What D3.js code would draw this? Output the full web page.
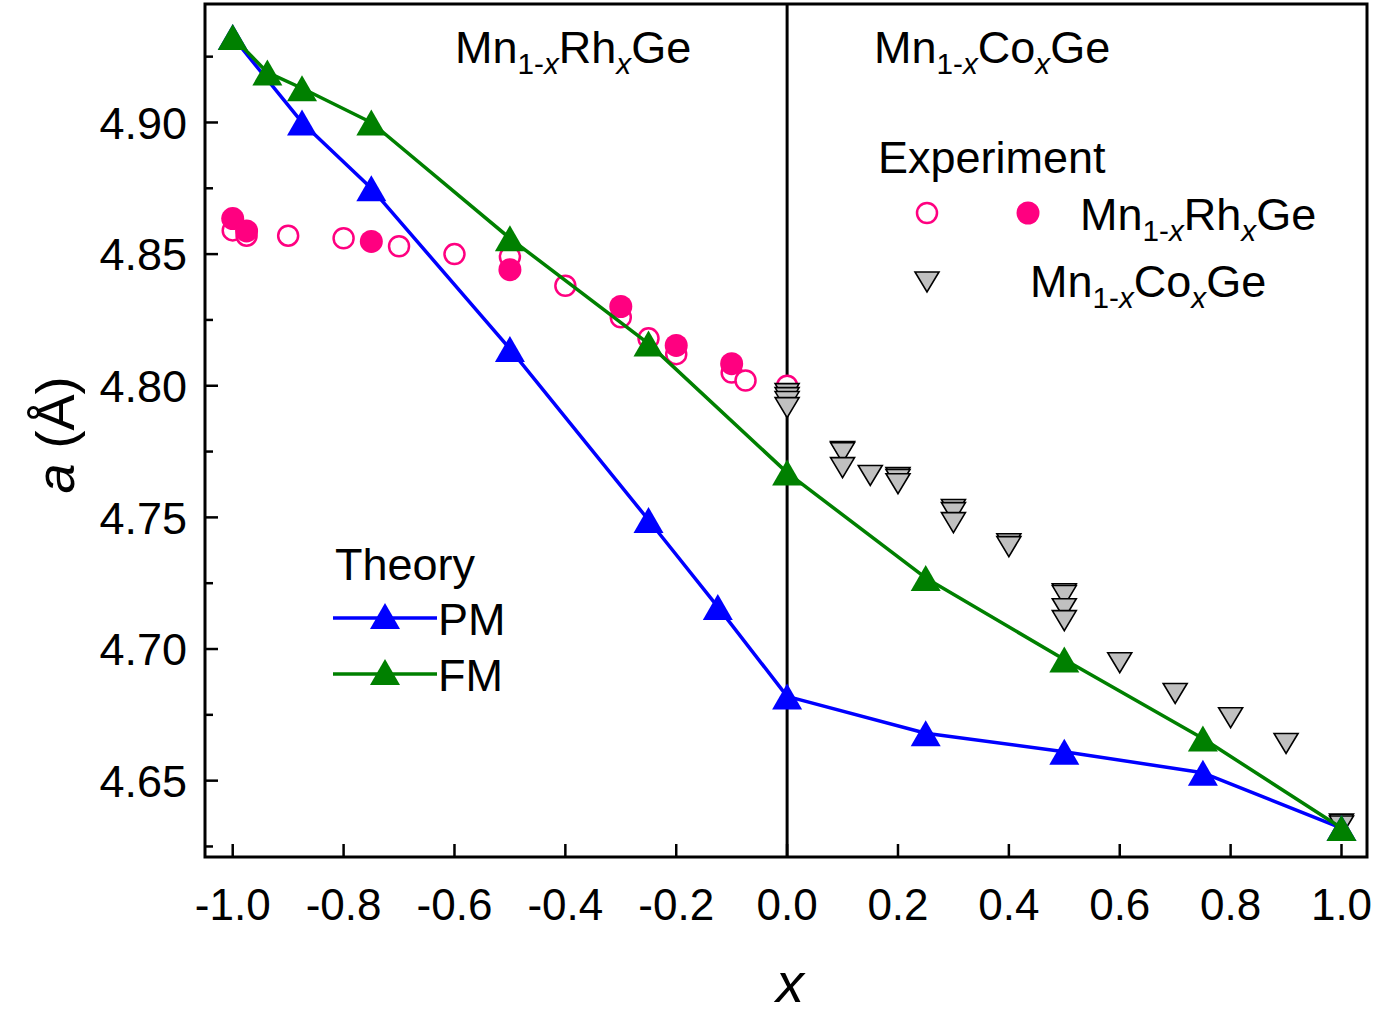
<!DOCTYPE html>
<html>
<head>
<meta charset="utf-8">
<script src="https://cdn.jsdelivr.net/npm/d3@7"></script>
<style>
  html, body { margin: 0; padding: 0; background: #fff; }
  svg { display: block; font-family: "Liberation Sans", Arial, sans-serif; }
</style>
</head>
<body>
<svg id="chart" width="1378" height="1021"></svg>
<script>
// theory, PM and FM (lattice parameter a, in Å)
const pmX = [-1.0, -0.875, -0.75, -0.5, -0.25, -0.125, 0, 0.25, 0.5, 0.75, 1.0];
const pmA = [4.9325, 4.900, 4.875, 4.814, 4.749, 4.716, 4.682, 4.668, 4.661, 4.653, 4.632];
const fmX = [-1.0, -0.9375, -0.875, -0.75, -0.5, -0.25, 0, 0.25, 0.5, 0.75, 1.0];
const fmA = [4.9325, 4.919, 4.913, 4.900, 4.856, 4.816, 4.767, 4.727, 4.696, 4.666, 4.632];

// experiment, Mn1-xRhxGe (plotted at negative x)
const rhOpenX = [-1.0, -0.975, -0.9, -0.8, -0.7, -0.6, -0.5, -0.4, -0.3, -0.25, -0.2, -0.1, -0.075, 0];
const rhOpenA = [4.859, 4.857, 4.857, 4.856, 4.853, 4.850, 4.849, 4.838, 4.826, 4.818, 4.812, 4.805, 4.802, 4.800];
const rhFillX = [-1.0, -0.975, -0.75, -0.5, -0.3, -0.2, -0.1];
const rhFillA = [4.8635, 4.8588, 4.8548, 4.8441, 4.8301, 4.8153, 4.8084];

// experiment, Mn1-xCoxGe
const coX = [0, 0, 0, 0, 0.1, 0.1, 0.1, 0.15, 0.2, 0.2, 0.2, 0.3, 0.3, 0.3, 0.4, 0.4,
             0.5, 0.5, 0.5, 0.5, 0.6, 0.7, 0.8, 0.9, 1.0, 1.0];
const coA = [4.797, 4.7955, 4.794, 4.7917, 4.775, 4.7746, 4.7689, 4.7659, 4.7651, 4.7644, 4.7628,
             4.753, 4.7518, 4.748, 4.740, 4.7389, 4.721, 4.7203, 4.7153, 4.7108,
             4.6948, 4.6831, 4.6739, 4.6641, 4.6335, 4.6328];

const xTicks = [-1.0, -0.8, -0.6, -0.4, -0.2, 0.0, 0.2, 0.4, 0.6, 0.8, 1.0];
const yTicks = [4.65, 4.70, 4.75, 4.80, 4.85, 4.90];
const yMinor = [4.625, 4.675, 4.725, 4.775, 4.825, 4.875, 4.925];

const BLUE = "#0000ff", GREEN = "#008000", PINK = "#ff0080", GRAY = "#c0c0c0";

const svg = d3.select("#chart");
const L = 205, R = 1367, T = 4, B = 857;

const x = d3.scaleLinear().domain([-1.05, 1.046]).range([L, R]);
const y = d3.scaleLinear().domain([4.621, 4.945]).range([B, T]);

// zero line
svg.append("line")
  .attr("x1", x(0)).attr("x2", x(0)).attr("y1", T).attr("y2", B)
  .attr("stroke", "#000").attr("stroke-width", 3);

// ticks (inward)
xTicks.forEach(t => {
  svg.append("line").attr("x1", x(t)).attr("x2", x(t)).attr("y1", B).attr("y2", B - 13)
    .attr("stroke", "#000").attr("stroke-width", 2.5);
  svg.append("text").attr("x", x(t)).attr("y", 920).attr("text-anchor", "middle")
    .attr("font-size", 44).text(t.toFixed(1));
});
yTicks.forEach(t => {
  svg.append("line").attr("x1", L).attr("x2", L + 13).attr("y1", y(t)).attr("y2", y(t))
    .attr("stroke", "#000").attr("stroke-width", 2.5);
  svg.append("text").attr("x", 187).attr("y", y(t)).attr("dy", "0.36em").attr("text-anchor", "end")
    .attr("font-size", 45).text(t.toFixed(2));
});
yMinor.forEach(t => {
  svg.append("line").attr("x1", L).attr("x2", L + 8).attr("y1", y(t)).attr("y2", y(t))
    .attr("stroke", "#000").attr("stroke-width", 2.5);
});

// frame
svg.append("rect").attr("x", L).attr("y", T).attr("width", R - L).attr("height", B - T)
  .attr("fill", "none").attr("stroke", "#000").attr("stroke-width", 3);

// markers
const downTri = "M-12,-10L12,-10L0,10Z";
const upTri = "M0,-13L15,13L-15,13Z";

svg.append("g").selectAll("circle").data(rhOpenX).join("circle")
  .attr("cx", d => x(d)).attr("cy", (d, i) => y(rhOpenA[i])).attr("r", 10)
  .attr("fill", "#fff").attr("stroke", PINK).attr("stroke-width", 2.5);

svg.append("g").selectAll("circle").data(rhFillX).join("circle")
  .attr("cx", d => x(d)).attr("cy", (d, i) => y(rhFillA[i])).attr("r", 11.5)
  .attr("fill", PINK);

svg.append("g").selectAll("path").data(coX).join("path")
  .attr("transform", (d, i) => `translate(${x(d)},${y(coA[i])})`)
  .attr("d", downTri).attr("fill", GRAY).attr("stroke", "#000").attr("stroke-width", 1.6)
  .attr("stroke-linejoin", "miter");

// theory curves
function theory(xs, as, color) {
  const pts = xs.map((d, i) => [x(d), y(as[i])]);
  svg.append("path").datum(pts)
    .attr("d", d3.line())
    .attr("fill", "none").attr("stroke", color).attr("stroke-width", 3.5)
    .attr("stroke-linejoin", "round");
  svg.append("g").selectAll("path").data(pts).join("path")
    .attr("transform", p => `translate(${p[0]},${p[1]})`)
    .attr("d", upTri).attr("fill", color);
}
theory(pmX, pmA, BLUE);
theory(fmX, fmA, GREEN);

// chemical formula with subscripts
function formula(px, py, parts, size) {
  const t = svg.append("text").attr("x", px).attr("y", py).attr("font-size", size);
  let low = false;
  parts.forEach(([s, sub, it]) => {
    const ts = t.append("tspan").text(s);
    if (sub && !low) { ts.attr("dy", size * 0.24); low = true; }
    else if (!sub && low) { ts.attr("dy", -size * 0.24); low = false; }
    if (sub) ts.attr("font-size", size * 0.66);
    if (it) ts.attr("font-style", "italic");
  });
}
const rhParts = [["Mn"], ["1-", true], ["x", true, true], ["Rh"], ["x", true, true], ["Ge"]];
const coParts = [["Mn"], ["1-", true], ["x", true, true], ["Co"], ["x", true, true], ["Ge"]];

formula(455, 63, rhParts, 45);
formula(874, 63, coParts, 45);

// experiment legend
svg.append("text").attr("x", 878).attr("y", 173).attr("font-size", 45).text("Experiment");
svg.append("circle").attr("cx", 927).attr("cy", 213).attr("r", 10)
  .attr("fill", "#fff").attr("stroke", PINK).attr("stroke-width", 2.5);
svg.append("circle").attr("cx", 1028).attr("cy", 213).attr("r", 11.5).attr("fill", PINK);
formula(1080, 230, rhParts, 45);
svg.append("path").attr("transform", "translate(927,282)").attr("d", downTri)
  .attr("fill", GRAY).attr("stroke", "#000").attr("stroke-width", 1.6);
formula(1030, 297, coParts, 45);

// theory legend
svg.append("text").attr("x", 335).attr("y", 580).attr("font-size", 45).text("Theory");
[["PM", BLUE, 618], ["FM", GREEN, 674]].forEach(([lab, col, ly]) => {
  svg.append("line").attr("x1", 333).attr("x2", 437).attr("y1", ly).attr("y2", ly)
    .attr("stroke", col).attr("stroke-width", 3.5);
  svg.append("path").attr("transform", `translate(385,${ly - 2})`).attr("d", upTri).attr("fill", col);
  svg.append("text").attr("x", 438).attr("y", ly + 17).attr("font-size", 45).text(lab);
});

// axis titles
svg.append("text").attr("transform", "translate(74,435) rotate(-90)")
  .attr("text-anchor", "middle").attr("font-size", 54)
  .call(t => {
    t.append("tspan").attr("font-style", "italic").text("a");
    t.append("tspan").text(" (Å)");
  });
svg.append("text").attr("x", 790).attr("y", 1002).attr("text-anchor", "middle")
  .attr("font-size", 56).attr("font-style", "italic").text("x");
</script>
</body>
</html>
